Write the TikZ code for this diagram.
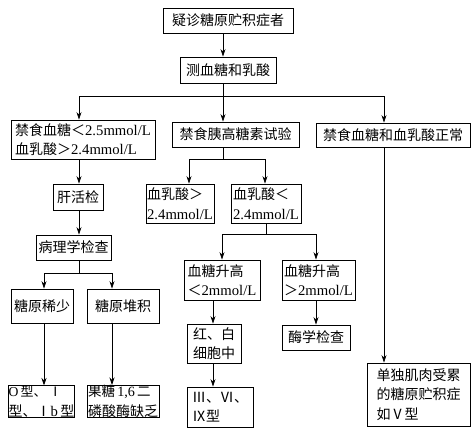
\documentclass[tikz,border=0pt]{standalone}
\usepackage{fontspec}
\setmainfont{Noto Sans CJK SC}
\newfontfamily\lt{Liberation Serif}[Scale=1.05]
\usetikzlibrary{arrows.meta}
\newcommand\bx[6]{\node[box, minimum width={#4-#2}, minimum height={#5-#3}] (#1) at ({(#2+#4)/2},{(#3+#5)/2}) {#6};}
\begin{document}
\begin{tikzpicture}[x=1pt,y=-1pt,
  box/.style={draw, line width=0.9pt, inner sep=0pt, align=left, font=\fontsize{14}{19.5}\selectfont},
  arr/.style={-{Stealth[length=7.5pt,width=5pt]}, line width=0.8pt},
  ln/.style={line width=0.8pt}]
\useasboundingbox (0,0) rectangle (476,434);
% boxes
\bx{b1}{163}{8}{293}{33}{疑诊糖原贮积症者}
\bx{b2}{180}{57}{276}{83}{测血糖和乳酸}
\bx{A}{11}{120}{155}{159}{禁食血糖＜{\lt 2.5mmol/L}\\血乳酸＞{\lt 2.4mmol/L}}
\bx{B}{172}{122}{299}{147}{禁食胰高糖素试验}
\bx{C}{316}{123}{470}{147}{禁食血糖和血乳酸正常}
\bx{liver}{53}{184}{103}{210}{肝活检}
\bx{path}{36}{235}{111}{260}{病理学检查}
\bx{few}{11}{289}{73}{323}{糖原稀少}
\bx{acc}{87}{289}{159}{323}{糖原堆积}
\bx{t0}{10}{386}{73}{417}{\fontsize{13}{19.5}\selectfont{\lt O}\,型、\,Ⅰ\\型、Ⅰ{\lt b}\,型}
\bx{fru}{87}{386}{159}{417}{\fontsize{13.5}{19.5}\selectfont 果糖\,{\lt 1,6}\,二\\磷酸酶缺乏}
\bx{Lhi}{146}{184}{214}{223}{血乳酸＞\\{\lt 2.4mmol/L}}
\bx{Llo}{231}{184}{301}{223}{血乳酸＜\\{\lt 2.4mmol/L}}
\bx{Mlo}{184}{260}{260}{300}{血糖升高\\＜{\lt 2mmol/L}}
\bx{Mhi}{282}{260}{355}{300}{血糖升高\\＞{\lt 2mmol/L}}
\bx{rbc}{187}{324}{241}{363}{红、白\\细胞中}
\bx{t3}{187}{387}{253}{427}{Ⅲ、Ⅵ、\\Ⅸ型}
\bx{enz}{282}{325}{350}{350}{酶学检查}
\bx{D}{367}{363}{470}{426}{单独肌肉受累\\的糖原贮积症\\如Ⅴ型}
% junction coordinates
\coordinate (j1) at (223,96);
\coordinate (j1l) at (79,96);
\coordinate (j1r) at (384,96);
\coordinate (j2) at (79,273);
\coordinate (j2l) at (44,273);
\coordinate (j2r) at (112,273);
\coordinate (j3) at (223,159);
\coordinate (j3l) at (189,159);
\coordinate (j3r) at (265,159);
\coordinate (j4) at (266,234);
\coordinate (j4l) at (222,234);
\coordinate (j4r) at (316,234);
\coordinate (c213) at (213,0);
% connectors
\draw[arr] (b1.south -| j1) -- (b2.north -| j1);
\draw[ln] (b2.south -| j1) -- (j1);
\draw[ln] (j1l) -- (j1r);
\draw[arr] (j1l) -- (A.north -| j1l);
\draw[arr] (j1) -- (B.north -| j1);
\draw[arr] (j1r) -- (C.north -| j1r);
\draw[arr] (A.south -| j1l) -- (liver.north -| j1l);
\draw[arr] (liver.south -| j1l) -- (path.north -| j1l);
\draw[ln] (path.south -| j2) -- (j2);
\draw[ln] (j2l) -- (j2r);
\draw[arr] (j2l) -- (few.north -| j2l);
\draw[arr] (j2r) -- (acc.north -| j2r);
\draw[arr] (few.south -| j2l) -- (t0.north -| j2l);
\draw[arr] (acc.south -| j2r) -- (fru.north -| j2r);
\draw[ln] (B.south -| j3) -- (j3);
\draw[ln] (j3l) -- (j3r);
\draw[arr] (j3l) -- (Lhi.north -| j3l);
\draw[arr] (j3r) -- (Llo.north -| j3r);
\draw[ln] (Llo.south -| j4) -- (j4);
\draw[ln] (j4l) -- (j4r);
\draw[arr] (j4l) -- (Mlo.north -| j4l);
\draw[arr] (j4r) -- (Mhi.north -| j4r);
\draw[arr] (Mlo.south -| c213) -- (rbc.north -| c213);
\draw[arr] (rbc.south -| c213) -- (t3.north -| c213);
\draw[arr] (Mhi.south -| j4r) -- (enz.north -| j4r);
\draw[arr] (C.south -| j1r) -- (D.north -| j1r);
\end{tikzpicture}
\end{document}
